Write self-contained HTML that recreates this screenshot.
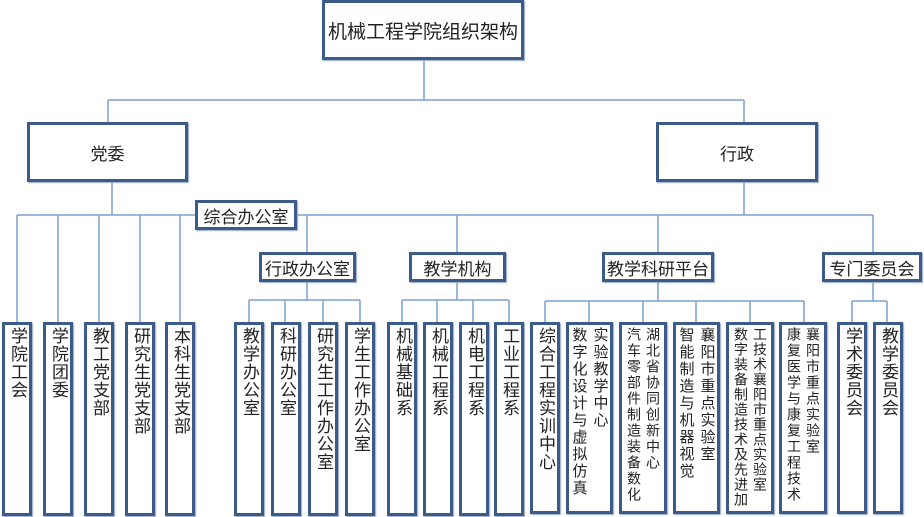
<!DOCTYPE html>
<html><head><meta charset="utf-8"><style>
body{margin:0;width:924px;height:517px;background:#fff;position:relative;overflow:hidden;font-family:"Liberation Sans","Noto Sans CJK SC",sans-serif;color:#222}
.b{position:absolute;box-sizing:border-box;border:3px solid #3b5b88;background:#fff;box-shadow:1px 1px 1px #9aa9c0;display:flex;align-items:center;justify-content:center}
.h{font-size:17px}
.v{align-items:flex-start;justify-content:center}
.v span{writing-mode:vertical-rl;font-size:17px;line-height:20px;letter-spacing:1px;margin-top:2px}
.v2 span{font-size:15px;line-height:21px;letter-spacing:2px}
.v3 span{font-size:14px;line-height:19px;letter-spacing:1px}
svg{position:absolute;left:0;top:0}
</style></head><body>
<svg width="924" height="517"><g stroke="#7ea0d2" stroke-width="1.5" fill="none">
<path d="M424 59V100M108 100H744M108 100V123M744 100V123"/>
<path d="M112 181V215M17 215H873M17 215V322M58 215V322M99 215V322M140 215V322M180 215V322"/>
<path d="M744 181V215M307 215V252M457 215V252M658 215V252M873 215V252"/>
<path d="M307 281V300M249 300H360M249 300V322M285 300V322M323 300V322M360 300V322"/>
<path d="M457 281V300M402 300H509M402 300V322M437 300V322M473 300V322M509 300V322"/>
<path d="M658 282V301M545 301H804M545 301V322M589 301V322M643 301V322M696 301V322M750 301V322M804 301V322"/>
<path d="M873 281V301M852 301H887M852 301V322M887 301V322"/>
</g></svg>
<div class="b h" style="left:322px;top:0;width:202px;height:60px;font-size:19px">机械工程学院组织架构</div>
<div class="b h" style="left:27px;top:122px;width:161px;height:60px">党委</div>
<div class="b h" style="left:656px;top:122px;width:162px;height:60px">行政</div>
<div class="b h" style="left:195px;top:200px;width:102px;height:30px">综合办公室</div>
<div class="b h" style="left:259px;top:252px;width:97px;height:30px">行政办公室</div>
<div class="b h" style="left:409px;top:252px;width:97px;height:30px">教学机构</div>
<div class="b h" style="left:602px;top:252px;width:112px;height:30px">教学科研平台</div>
<div class="b h" style="left:822px;top:252px;width:100px;height:30px">专门委员会</div>

<div class="b v" style="left:2px;top:322px;width:30px;height:194px"><span>学院工会</span></div>
<div class="b v" style="left:43px;top:322px;width:30px;height:194px"><span>学院团委</span></div>
<div class="b v" style="left:84px;top:322px;width:30px;height:194px"><span>教工党支部</span></div>
<div class="b v" style="left:125px;top:322px;width:30px;height:194px"><span>研究生党支部</span></div>
<div class="b v" style="left:165px;top:322px;width:30px;height:194px"><span>本科生党支部</span></div>

<div class="b v" style="left:234px;top:322px;width:30px;height:194px"><span>教学办公室</span></div>
<div class="b v" style="left:271px;top:322px;width:30px;height:194px"><span>科研办公室</span></div>
<div class="b v" style="left:308px;top:322px;width:30px;height:194px"><span>研究生工作办公室</span></div>
<div class="b v" style="left:345px;top:322px;width:30px;height:194px"><span>学生工作办公室</span></div>

<div class="b v" style="left:387px;top:322px;width:30px;height:194px"><span>机械基础系</span></div>
<div class="b v" style="left:423px;top:322px;width:30px;height:194px"><span>机械工程系</span></div>
<div class="b v" style="left:459px;top:322px;width:30px;height:194px"><span>机电工程系</span></div>
<div class="b v" style="left:494px;top:322px;width:30px;height:194px"><span>工业工程系</span></div>

<div class="b v" style="left:530px;top:322px;width:30px;height:192px"><span>综合工程实训中心</span></div>
<div class="b v v2" style="left:566px;top:322px;width:47px;height:192px"><span>实验教学中心<br>数字化设计与虚拟仿真</span></div>
<div class="b v v3" style="left:619px;top:322px;width:48px;height:192px"><span style="letter-spacing:2px">湖北省协同创新中心<br>汽车零部件制造装备数化</span></div>
<div class="b v v2" style="left:673px;top:322px;width:47px;height:192px"><span>襄阳市重点实验室<br>智能制造与机器视觉</span></div>
<div class="b v v3" style="left:726px;top:322px;width:48px;height:192px"><span>工技术襄阳市重点实验室<br>数字装备制造技术及先进加</span></div>
<div class="b v v3" style="left:779px;top:322px;width:48px;height:192px"><span style="letter-spacing:2px">襄阳市重点实验室<br>康复医学与康复工程技术</span></div>

<div class="b v" style="left:837px;top:322px;width:30px;height:192px"><span>学术委员会</span></div>
<div class="b v" style="left:873px;top:322px;width:30px;height:192px"><span>教学委员会</span></div>
</body></html>
